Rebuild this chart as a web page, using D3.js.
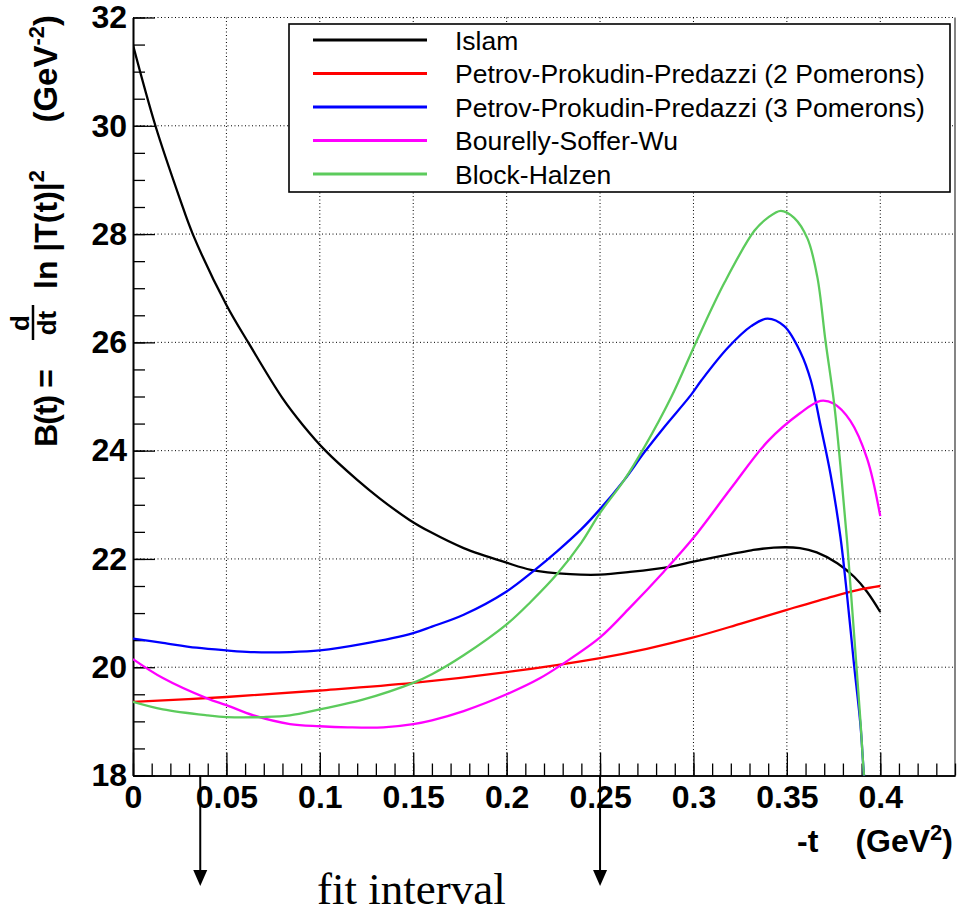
<!DOCTYPE html>
<html><head><meta charset="utf-8">
<script src="https://cdn.jsdelivr.net/npm/d3@7"></script>
<style>body{margin:0;background:#fff}svg{display:block}</style>
</head><body>
<script>
// ---- data ----
const xTicks = [0, 0.05, 0.1, 0.15, 0.2, 0.25, 0.3, 0.35, 0.4];
const xTickLabels = ["0", "0.05", "0.1", "0.15", "0.2", "0.25", "0.3", "0.35", "0.4"];
const yTicks = [18, 20, 22, 24, 26, 28, 30, 32];
const seriesNames = ["Islam", "Petrov-Prokudin-Predazzi (2 Pomerons)", "Petrov-Prokudin-Predazzi (3 Pomerons)", "Bourelly-Soffer-Wu", "Block-Halzen"];
const seriesColors = ["#000000", "#ff0000", "#0000ff", "#ff00ff", "#5ccb5c"];
const islam = [[0,31.49],[0.012,30.0],[0.025,28.66],[0.032,28.0],[0.05,26.69],[0.062,25.98],[0.08,24.97],[0.091,24.47],[0.103,24.0],[0.12,23.46],[0.132,23.12],[0.148,22.72],[0.159,22.5],[0.177,22.2],[0.2,21.93],[0.213,21.8],[0.234,21.72],[0.25,21.71],[0.266,21.76],[0.288,21.86],[0.3,21.95],[0.32,22.09],[0.331,22.16],[0.343,22.21],[0.357,22.2],[0.366,22.12],[0.377,21.92],[0.386,21.67],[0.393,21.39],[0.4,21.02]];
const ppp2 = [[0,19.36],[0.05,19.45],[0.1,19.57],[0.15,19.71],[0.2,19.91],[0.25,20.17],[0.275,20.34],[0.3,20.55],[0.325,20.8],[0.35,21.06],[0.375,21.31],[0.39,21.44],[0.4,21.5]];
const ppp3 = [[0,20.53],[0.016,20.45],[0.034,20.36],[0.05,20.31],[0.063,20.28],[0.084,20.28],[0.1,20.31],[0.123,20.43],[0.15,20.63],[0.16,20.75],[0.177,20.97],[0.2,21.4],[0.2145,21.78],[0.227,22.14],[0.24,22.55],[0.25,22.92],[0.263,23.46],[0.2735,23.96],[0.284,24.42],[0.2987,25.03],[0.3043,25.3],[0.3184,25.9],[0.3309,26.3],[0.3397,26.44],[0.3486,26.3],[0.3574,25.81],[0.3628,25.3],[0.3681,24.45],[0.3734,23.56],[0.3787,22.4],[0.3823,21.3],[0.3858,20.1],[0.3894,18.93],[0.3911,18.09],[0.393,17.4]];
const bsw = [[0,20.15],[0.016,19.8],[0.04,19.42],[0.05,19.3],[0.0645,19.11],[0.084,18.95],[0.1,18.91],[0.115,18.89],[0.134,18.89],[0.15,18.95],[0.16,19.02],[0.177,19.19],[0.2,19.5],[0.218,19.8],[0.23,20.06],[0.25,20.55],[0.266,21.1],[0.284,21.76],[0.3,22.39],[0.32,23.3],[0.34,24.18],[0.357,24.69],[0.368,24.92],[0.375,24.87],[0.384,24.55],[0.393,23.85],[0.4,22.79]];
const blockHalzen = [[0,19.36],[0.016,19.22],[0.04,19.11],[0.05,19.08],[0.07,19.08],[0.084,19.11],[0.1,19.22],[0.123,19.4],[0.15,19.71],[0.16,19.87],[0.177,20.22],[0.2,20.79],[0.2127,21.2],[0.227,21.72],[0.24,22.3],[0.25,22.85],[0.263,23.46],[0.2735,24.05],[0.288,24.98],[0.302,26.05],[0.3167,27.11],[0.3326,28.06],[0.3397,28.3],[0.3468,28.43],[0.3539,28.3],[0.361,27.92],[0.3663,27.21],[0.3707,26.02],[0.3752,24.9],[0.3787,23.71],[0.3823,22.3],[0.3858,20.69],[0.3894,19.0],[0.3911,18.09],[0.393,17.4]];
const fitInterval = [0.036, 0.25];

const allSeries = [islam, ppp2, ppp3, bsw, blockHalzen];

// ---- layout ----
const W = 963, H = 915;
const L = 133, R = 955, T = 17.5, B = 775.5;
const x = d3.scaleLinear().domain([0, 0.44]).range([L, R]);
const y = d3.scaleLinear().domain([18, 32]).range([B, T]);

const svg = d3.select("body").append("svg").attr("width", W).attr("height", H)
  .style("font-family", "'Liberation Sans', Arial, Helvetica, sans-serif");

svg.append("defs").append("clipPath").attr("id", "plotclip")
  .append("rect").attr("x", L).attr("y", T).attr("width", R - L).attr("height", B - T);

// grid
const grid = svg.append("g").attr("stroke", "#000").attr("stroke-width", 1).attr("stroke-dasharray", "1,2.5");
grid.selectAll("line.v").data(xTicks.filter(d => d > 0)).join("line")
  .attr("x1", d => x(d)).attr("x2", d => x(d)).attr("y1", T).attr("y2", B);
grid.selectAll("line.h").data(yTicks.filter(d => d > 18)).join("line")
  .attr("x1", L).attr("x2", R).attr("y1", d => y(d)).attr("y2", d => y(d));

// right frame
svg.append("line").attr("x1", R).attr("x2", R).attr("y1", T).attr("y2", B).attr("stroke", "#333").attr("stroke-width", 1.2);

// axes
const yMinor = d3.range(18, 32.01, 0.5);
const xMinor = d3.range(0, 0.4401, 0.01);
const yAxMinor = svg.append("g").attr("transform", `translate(${L},0)`)
  .call(d3.axisLeft(y).tickValues(yMinor).tickSize(-12).tickSizeOuter(0).tickFormat(""));
const xAxMinor = svg.append("g").attr("transform", `translate(0,${B})`)
  .call(d3.axisBottom(x).tickValues(xMinor).tickSize(-12).tickSizeOuter(0).tickFormat(""));
const yAx = svg.append("g").attr("transform", `translate(${L},0)`)
  .call(d3.axisLeft(y).tickValues(yTicks).tickSize(-22).tickSizeOuter(0).tickPadding(6).tickFormat(d3.format("d")));
const xAx = svg.append("g").attr("transform", `translate(0,${B})`)
  .call(d3.axisBottom(x).tickValues(xTicks).tickSize(-23).tickSizeOuter(0).tickPadding(10).tickFormat((d, i) => xTickLabels[i]));
[yAxMinor, xAxMinor, yAx, xAx].forEach(g => {
  g.selectAll("line").attr("stroke", "#000").attr("stroke-width", 1.3);
  g.select(".domain").attr("stroke", "#000").attr("stroke-width", 1.6);
  g.selectAll("text").attr("font-size", 32).attr("font-weight", "bold").attr("fill", "#000")
    .attr("font-family", "'Liberation Sans', Arial, sans-serif");
});

// curves
const line = d3.line().x(d => x(d[0])).y(d => y(d[1])).curve(d3.curveCatmullRom.alpha(0.5));
const curves = svg.append("g").attr("clip-path", "url(#plotclip)");
allSeries.forEach((s, i) => {
  curves.append("path").datum(s).attr("d", line).attr("fill", "none")
    .attr("stroke", seriesColors[i]).attr("stroke-width", 2.3);
});

// legend
const lg = svg.append("g");
lg.append("rect").attr("x", 289).attr("y", 24).attr("width", 661).attr("height", 168)
  .attr("fill", "#fff").attr("stroke", "#000").attr("stroke-width", 1.6);
const rowY = [40, 73.5, 107, 140.5, 174];
seriesNames.forEach((n, i) => {
  lg.append("line").attr("x1", 313).attr("x2", 427).attr("y1", rowY[i]).attr("y2", rowY[i])
    .attr("stroke", seriesColors[i]).attr("stroke-width", 3);
  lg.append("text").attr("x", 455).attr("y", rowY[i]).attr("dy", "0.36em")
    .attr("font-size", 26.5).attr("fill", "#000").text(n);
});

// x-axis title
svg.append("text").attr("x", 797).attr("y", 852).attr("font-size", 32).attr("font-weight", "bold").text("-t");
const xt = svg.append("text").attr("x", 953).attr("y", 852).attr("text-anchor", "end")
  .attr("font-size", 32).attr("font-weight", "bold");
xt.append("tspan").text("(GeV");
xt.append("tspan").attr("font-size", 22).attr("dy", -12).text("2");
xt.append("tspan").attr("dy", 12).text(")");

// y-axis title (rotated)
const yt = svg.append("g").attr("transform", "translate(57,447) rotate(-90)")
  .attr("font-weight", "bold").attr("fill", "#000");
yt.append("text").attr("x", 0).attr("y", 0).attr("font-size", 32).attr("textLength", 78).text("B(t) =");
yt.append("text").attr("x", 124).attr("y", -28).attr("text-anchor", "middle").attr("font-size", 26).text("d");
yt.append("line").attr("x1", 107).attr("x2", 142).attr("y1", -24).attr("y2", -24).attr("stroke", "#000").attr("stroke-width", 2.5);
yt.append("text").attr("x", 124).attr("y", -1).attr("text-anchor", "middle").attr("font-size", 26).text("dt");
const yt2 = yt.append("text").attr("x", 158).attr("y", 0).attr("font-size", 32);
yt2.append("tspan").text("ln |T(t)|");
yt2.append("tspan").attr("font-size", 22).attr("dy", -13).text("2");
const yt3 = yt.append("text").attr("x", 432).attr("y", 0).attr("text-anchor", "end").attr("font-size", 33);
yt3.append("tspan").text("(GeV");
yt3.append("tspan").attr("font-size", 22).attr("dy", -13).text("-2");
yt3.append("tspan").attr("dy", 13).text(")");

// fit interval arrows
const arr = svg.append("g");
fitInterval.forEach(v => {
  const px = x(v);
  arr.append("line").attr("x1", px).attr("x2", px).attr("y1", B).attr("y2", 872)
    .attr("stroke", "#000").attr("stroke-width", 2);
  arr.append("path").attr("d", `M${px - 7},870 L${px + 7},870 L${px},886 Z`).attr("fill", "#000");
});
svg.append("text").attr("x", 317).attr("y", 904).attr("font-size", 45)
  .attr("font-family", "'Liberation Serif', 'Times New Roman', serif").text("fit interval");
</script>
</body></html>
